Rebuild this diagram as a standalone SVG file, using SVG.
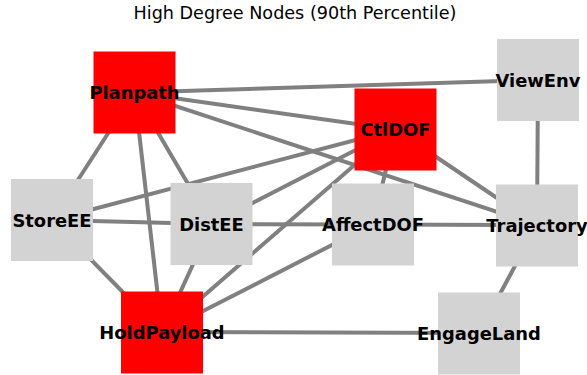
<svg xmlns="http://www.w3.org/2000/svg" width="587" height="375" viewBox="0 0 587 375">
  <style>
    .edge { stroke: #808080; stroke-width: 4; fill: none; }
    .hub rect { fill: #ff0000; }
    .plain rect { fill: #d3d3d3; }
    .lbl { font-family: "DejaVu Sans", sans-serif; font-weight: bold; font-size: 17.9px; fill: #000; text-anchor: middle; dominant-baseline: central; }
    .title { font-family: "DejaVu Sans", sans-serif; font-size: 17.6px; fill: #000; text-anchor: middle; }
  </style>
  <rect width="587" height="375" fill="#fff"/>
  <text class="title" x="295" y="19">High Degree Nodes (90th Percentile)</text>

  <g id="edges">
    <line class="edge" x1="134.5" y1="92.5" x2="538" y2="80"/>
    <line class="edge" x1="134.5" y1="92.5" x2="395.5" y2="129.5"/>
    <line class="edge" x1="134.5" y1="92.5" x2="537" y2="225"/>
    <line class="edge" x1="134.5" y1="92.5" x2="52" y2="220"/>
    <line class="edge" x1="134.5" y1="92.5" x2="211.5" y2="224"/>
    <line class="edge" x1="134.5" y1="92.5" x2="162" y2="332"/>
    <line class="edge" x1="395.5" y1="129.5" x2="52" y2="220"/>
    <line class="edge" x1="395.5" y1="129.5" x2="211.5" y2="224"/>
    <line class="edge" x1="395.5" y1="129.5" x2="162" y2="332"/>
    <line class="edge" x1="395.5" y1="129.5" x2="373" y2="224"/>
    <line class="edge" x1="395.5" y1="129.5" x2="537" y2="225"/>
    <line class="edge" x1="52" y1="220" x2="211.5" y2="224"/>
    <line class="edge" x1="52" y1="220" x2="162" y2="332"/>
    <line class="edge" x1="211.5" y1="224" x2="373" y2="224.5"/>
    <line class="edge" x1="373" y1="224.5" x2="537" y2="225"/>
    <line class="edge" x1="211.5" y1="224" x2="162" y2="332"/>
    <line class="edge" x1="162" y1="332" x2="373" y2="224"/>
    <line class="edge" x1="162" y1="332" x2="479" y2="333"/>
    <line class="edge" x1="538" y1="80" x2="537" y2="225"/>
    <line class="edge" x1="537" y1="225" x2="479" y2="333"/>
  </g>

  <g id="Planpath" class="hub"><rect x="93.5" y="51.5" width="82" height="82"/></g>
  <g id="CtlDOF" class="hub"><rect x="354.5" y="88.5" width="82" height="82"/></g>
  <g id="ViewEnv" class="plain"><rect x="497" y="39" width="82" height="82"/></g>
  <g id="StoreEE" class="plain"><rect x="11" y="179" width="82" height="82"/></g>
  <g id="DistEE" class="plain"><rect x="170.5" y="183" width="82" height="82"/></g>
  <g id="AffectDOF" class="plain"><rect x="332" y="183.5" width="82" height="82"/></g>
  <g id="Trajectory" class="plain"><rect x="496" y="184.5" width="82" height="82"/></g>
  <g id="HoldPayload" class="hub"><rect x="121" y="291.5" width="82" height="82"/></g>
  <g id="EngageLand" class="plain"><rect x="438" y="292.5" width="82" height="82"/></g>

  <g id="labels">
    <text class="lbl" x="134.5" y="92.5">Planpath</text>
    <text class="lbl" x="395.5" y="129.5">CtlDOF</text>
    <text class="lbl" x="538" y="80">ViewEnv</text>
    <text class="lbl" x="52" y="220">StoreEE</text>
    <text class="lbl" x="211.5" y="224">DistEE</text>
    <text class="lbl" x="373" y="224.5">AffectDOF</text>
    <text class="lbl" x="537" y="225.5">Trajectory</text>
    <text class="lbl" x="162" y="332">HoldPayload</text>
    <text class="lbl" x="479" y="333">EngageLand</text>
  </g>
</svg>
